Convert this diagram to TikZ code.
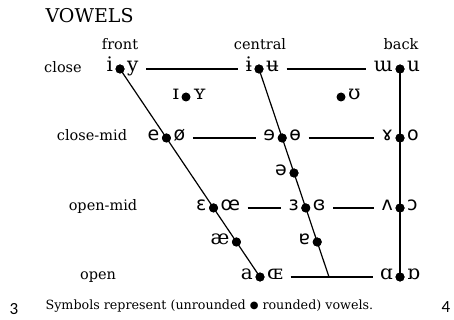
\documentclass[tikz,border=0pt]{standalone}
\usepackage{fontspec}
\setmainfont{DejaVu Serif}
\newfontfamily\ipasans{DejaVu Sans}
\newfontfamily\pagenumfont{Carlito}
\usetikzlibrary{calc}

\begin{document}
\begin{tikzpicture}[x=1pt,y=-1pt,
    line width=1.2pt,
    vdot/.style={circle,fill=black,draw=none,inner sep=0pt,minimum size=9pt},
    ipa/.style={inner sep=0pt,font=\fontsize{20}{23}\selectfont},
    ipas/.style={ipa,font=\fontsize{19}{22}\selectfont\ipasans},
    lft/.style={anchor=mid east,xshift=-6.5pt},
    rgt/.style={anchor=mid west,xshift=6.5pt},
    lbl/.style={inner sep=0pt,anchor=mid,font=\fontsize{14.5}{17}\selectfont},
    rowline/.style={shorten <=7pt,shorten >=7pt}]
  \useasboundingbox (0,0) rectangle (454,320);

  % title, column and row labels
  \node[inner sep=0pt,anchor=mid west,font=\fontsize{19}{22}\selectfont] (title) at (45,20) {VOWELS};
  \node[lbl] (front) at (120,47) {front};
  \node[lbl] (central) at (260,47) {central};
  \node[lbl] (back) at (401,47) {back};
  \node[lbl] (close) at (63,70) {close};
  \node[lbl] (closemid) at (92,138) {close-mid};
  \node[lbl] (openmid) at (103,208) {open-mid};
  \node[lbl] (open) at (98,277) {open};

  % ends of the three columns
  \coordinate (F0) at (120,69);
  \coordinate (F4) at (260,277);
  \coordinate (C0) at (259,69);
  \coordinate (C4) at (329,277);
  \coordinate (B0) at (400,69);
  \coordinate (B4) at (400,277);

  % vowel points
  \node[vdot] (d-iy) at (F0) {};
  \node[vdot] (d-eo) at ($(F0)!0.3317!(F4)$) {};
  \node[vdot] (d-ee) at ($(F0)!0.668!(F4)$) {};
  \node[vdot] (d-ae) at ($(F0)!0.8317!(F4)$) {};
  \node[vdot] (d-a) at (F4) {};
  \node[vdot] (d-iu) at (C0) {};
  \node[vdot] (d-ce) at ($(C0)!0.3317!(C4)$) {};
  \node[vdot] (d-schwa) at ($(C0)!0.5!(C4)$) {};
  \node[vdot] (d-cr) at ($(C0)!0.668!(C4)$) {};
  \node[vdot] (d-turna) at ($(C0)!0.8317!(C4)$) {};
  \node[vdot] (d-mu) at (B0) {};
  \node[vdot] (d-ro) at (400,138) {};
  \node[vdot] (d-vc) at (400,208) {};
  \node[vdot] (d-ad) at (B4) {};
  \node[vdot] (d-iiyy) at (186,97) {};
  \node[vdot] (d-upsilon) at (341,97) {};

  % vowel symbols
  \node[ipa,lft] (v-i) at (d-iy) {i};
  \node[ipa,rgt] (v-y) at (d-iy) {y};
  \node[ipa,lft] (v-ibar) at (d-iu) {ɨ};
  \node[ipa,rgt] (v-ubar) at (d-iu) {ʉ};
  \node[ipa,lft] (v-m) at (d-mu) {ɯ};
  \node[ipa,rgt] (v-u) at (d-mu) {u};
  \node[ipa,lft] (v-I) at (d-iiyy) {ɪ};
  \node[ipa,rgt] (v-Y) at (d-iiyy) {ʏ};
  \node[ipa,rgt] (v-U) at (d-upsilon) {ʊ};
  \node[ipas,lft] (v-e) at (d-eo) {e};
  \node[ipas,rgt] (v-oslash) at (d-eo) {ø};
  \node[ipas,lft] (v-reve) at (d-ce) {ɘ};
  \node[ipas,rgt] (v-obar) at (d-ce) {ɵ};
  \node[ipas,lft] (v-ramshorn) at (d-ro) {ɤ};
  \node[ipas,rgt] (v-o) at (d-ro) {o};
  \node[ipas,lft] (v-schwa) at (d-schwa) {ə};
  \node[ipas,lft] (v-epsilon) at (d-ee) {ɛ};
  \node[ipas,rgt] (v-oe) at (d-ee) {œ};
  \node[ipas,lft] (v-reveps) at (d-cr) {ɜ};
  \node[ipas,rgt] (v-closedeps) at (d-cr) {ɞ};
  \node[ipas,lft] (v-wedge) at (d-vc) {ʌ};
  \node[ipas,rgt] (v-openo) at (d-vc) {ɔ};
  \node[ipa,lft] (v-ash) at (d-ae) {æ};
  \node[ipas,lft] (v-turna) at (d-turna) {ɐ};
  \node[ipa,lft] (v-a) at (d-a) {a};
  \node[ipa,rgt] (v-OE) at (d-a) {ɶ};
  \node[ipa,lft] (v-alpha) at (d-ad) {ɑ};
  \node[ipa,rgt] (v-turnalpha) at (d-ad) {ɒ};

  % row lines
  \draw[rowline] (v-y.east |- d-iy) -- (v-ibar.west |- d-iy);
  \draw[rowline] (v-ubar.east |- d-iy) -- (v-m.west |- d-iy);
  \draw[rowline] (v-oslash.east |- d-eo) -- (v-reve.west |- d-eo);
  \draw[rowline] (v-obar.east |- d-eo) -- (v-ramshorn.west |- d-eo);
  \draw[rowline] (v-oe.east |- d-ee) -- (v-reveps.west |- d-ee);
  \draw[rowline] (v-closedeps.east |- d-ee) -- (v-wedge.west |- d-ee);
  \draw[rowline] (v-OE.east |- C4) -- (v-alpha.west |- C4);

  % column lines
  \draw (d-iy.center) -- (d-a.center);
  \draw (d-iu.center) -- (C4);
  \draw (d-mu.center) -- (d-ad.center);

  % redraw the points above the lines
  \foreach \d in {d-iy,d-eo,d-ee,d-ae,d-a,d-iu,d-ce,d-schwa,d-cr,d-turna,d-mu,d-ro,d-vc,d-ad}
    \fill (\d) circle (4.5pt);

  % footnote and page numbers
  \node[inner sep=0pt,anchor=mid west,font=\fontsize{12.7}{15}\selectfont] (note) at (45,307)
    {Symbols represent (unrounded \raisebox{1.3pt}{\ipasans\fontsize{10}{12}\selectfont ●} rounded) vowels.};
  \node[inner sep=0pt,anchor=mid,font=\fontsize{17}{20}\selectfont\pagenumfont] (p3) at (14,312) {3};
  \node[inner sep=0pt,anchor=mid,font=\fontsize{17}{20}\selectfont\pagenumfont] (p4) at (446,310) {4};
\end{tikzpicture}
\end{document}
